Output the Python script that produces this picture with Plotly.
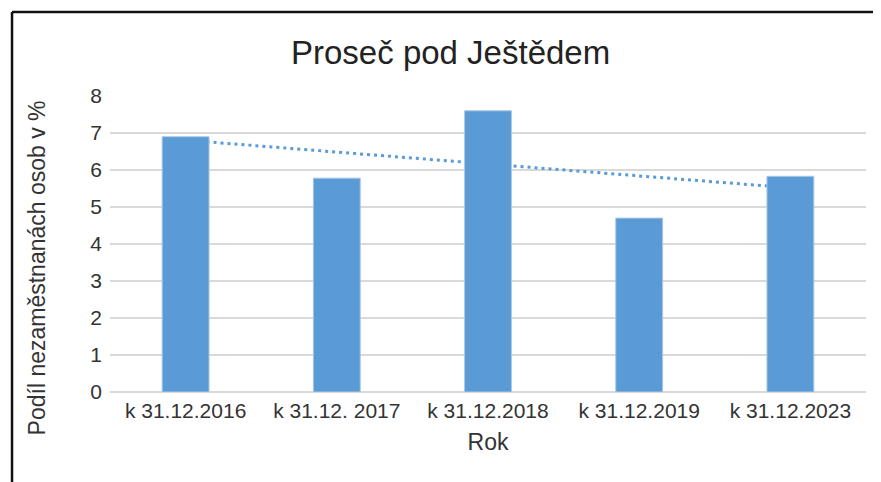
import numpy as np
import plotly.graph_objects as go

categories = ["k 31.12.2016", "k 31.12. 2017", "k 31.12.2018", "k 31.12.2019", "k 31.12.2023"]
values = [6.9, 5.78, 7.6, 4.7, 5.83]
y_ticks = [0, 1, 2, 3, 4, 5, 6, 7, 8]

title_text = "Proseč pod Ještědem"
x_title = "Rok"
y_title = "Podíl nezaměstnanách osob v %"

# linear trend (as Excel trendline)
idx = np.arange(1, len(values) + 1)
slope, intercept = np.polyfit(idx, values, 1)
trend = slope * idx + intercept

BLUE = "#5B9BD5"
FONT = "Liberation Sans, Arial, sans-serif"

fig = go.Figure()
fig.add_trace(go.Scatter(
    x=categories, y=trend, mode="lines", xaxis="x", yaxis="y",
    line=dict(color=BLUE, width=3, dash="3px,4px"), hoverinfo="skip", showlegend=False,
))
fig.add_trace(go.Bar(
    x=categories, y=values, xaxis="x2", yaxis="y2",
    marker=dict(color=BLUE, line=dict(color="#A9C8E8", width=1)), showlegend=False,
))

fig.update_layout(
    width=873, height=474,
    margin=dict(l=102, r=15, t=88, b=90),
    paper_bgcolor="white", plot_bgcolor="white",
    font=dict(family=FONT, color="#333333"),
    title=dict(text=title_text, x=0.507, xanchor="center", y=0.907, yanchor="middle",
               font=dict(size=33, color="#222222", family=FONT)),
    bargap=0.69,
    xaxis=dict(type="category", range=[-0.5, 4.5], showgrid=False, zeroline=False,
               showline=False, ticks="", tickfont=dict(size=21, color="#333333"),
               ticklabelstandoff=4,
               title=dict(text=x_title, font=dict(size=23, color="#333333"), standoff=12)),
    yaxis=dict(range=[0, 8], tickvals=y_ticks, showgrid=True, gridcolor="#D9D9D9",
               gridwidth=1.5, zeroline=True, zerolinecolor="#D9D9D9", zerolinewidth=1.5,
               showline=False, ticks="", tickfont=dict(size=21, color="#333333"),
               ticklabelstandoff=7),
    xaxis2=dict(type="category", range=[-0.5, 4.5], overlaying="x", visible=False),
    yaxis2=dict(range=[0, 8], overlaying="y", visible=False),
    annotations=[
        dict(text=y_title, textangle=-90, xref="paper", yref="paper",
             x=-0.096, y=0.5, xanchor="center", yanchor="middle", yshift=-24,
             showarrow=False, font=dict(size=23, color="#333333", family=FONT)),
    ],
    shapes=[
        dict(type="line", xref="paper", yref="paper", x0=-0.1296, x1=1.03, y0=1.284, y1=1.284,
             line=dict(color="#111111", width=2.5)),
        dict(type="line", xref="paper", yref="paper", x0=-0.1296, x1=-0.1296, y0=1.284, y1=-0.32,
             line=dict(color="#111111", width=2.5)),
    ],
)

fig.write_html("out.html")
